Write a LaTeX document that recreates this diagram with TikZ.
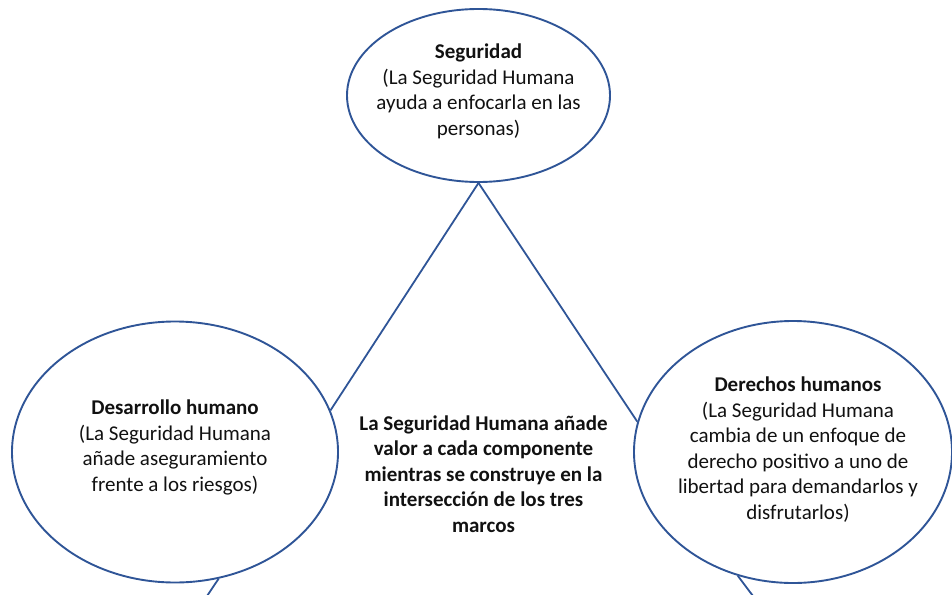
\documentclass[tikz,border=0pt]{standalone}
\usepackage{fontspec}
\setmainfont{Carlito}
\usetikzlibrary{shapes.geometric}
\definecolor{edge}{HTML}{2F5597}
\definecolor{ink}{HTML}{111111}
\tikzset{
  oval/.style={ellipse, draw=edge, line width=1.9pt, inner sep=0pt},
  conn/.style={draw=edge, line width=1.8pt},
  txt/.style={align=center, text=ink, inner sep=0pt, font=\fontsize{21}{25.6}\selectfont}
}
\begin{document}
\begin{tikzpicture}[x=1pt,y=-1pt]
\useasboundingbox (0,0) rectangle (952,594);
\node[oval, minimum width=263pt, minimum height=173pt] (top) at (478.5,95.5) {};
\node[oval, minimum width=326pt, minimum height=261pt] (left) at (175,452) {};
\node[oval, minimum width=318pt, minimum height=262pt] (right) at (793,452) {};
\node[txt] (ttop) at (478.5,91.5) {\textbf{Seguridad}\\(La Seguridad Humana\\ayuda a enfocarla en las\\personas)};
\node[txt] (tleft) at (175,447.5) {\textbf{Desarrollo humano}\\(La Seguridad Humana\\añade aseguramiento\\frente a los riesgos)};
\node[txt] (tright) at (798,449.5) {\textbf{Derechos humanos}\\(La Seguridad Humana\\cambia de un enfoque de\\derecho positivo a uno de\\libertad para demandarlos y\\disfrutarlos)};
\node[txt, font=\fontsize{21}{25.4}\selectfont\bfseries] (tcenter) at (483.5,474) {La Seguridad Humana añade\\valor a cada componente\\mientras se construye en la\\intersección de los tres\\marcos};
\coordinate (bl) at (207,596);
\coordinate (br) at (753,596);
\draw[conn] (top.south) -- (left.15.6);
\draw[conn] (top.south) -- (right.169);
\draw[conn] (left.-71) -- (bl);
\draw[conn] (right.-114.4) -- (br);
\end{tikzpicture}
\end{document}
